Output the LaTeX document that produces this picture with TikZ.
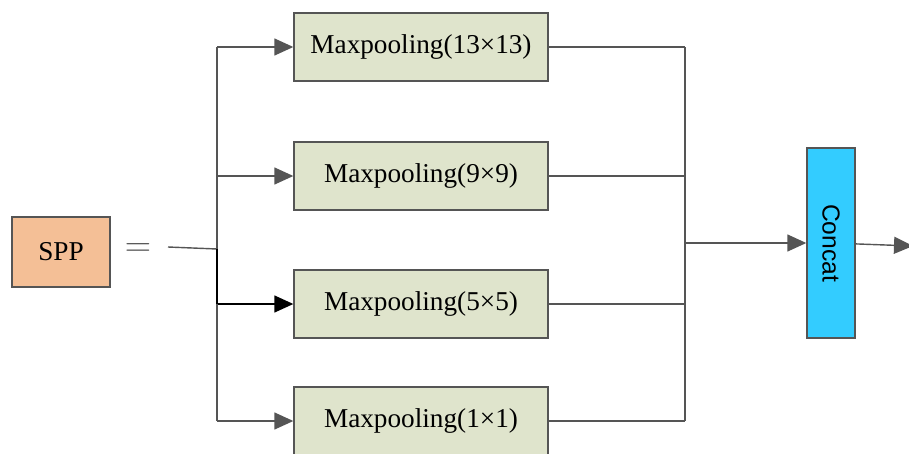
\documentclass[tikz,border=0pt]{standalone}
\usepackage{fontspec}
\setmainfont{Liberation Serif}
\newfontfamily\concatfont{Liberation Sans}
\usetikzlibrary{arrows.meta}

\definecolor{sppfill}{HTML}{F4BF96}
\definecolor{poolfill}{HTML}{DFE4CC}
\definecolor{concatfill}{HTML}{33CCFF}
\definecolor{edge}{HTML}{555555}

\tikzset{
	block/.style = {draw = edge, line width = 0.8pt, font = \fontsize{15.5}{18}\selectfont},
	pool/.style = {block, fill = poolfill, minimum width = 5.08cm, minimum height = 1.36cm},
	link/.style = {draw = edge, line width = 0.8pt},
	into/.style = {link, -{Triangle[length = 0.38cm, width = 0.34cm]}}
}

\begin{document}
\begin{tikzpicture}[x = 0.02cm, y = -0.02cm]
	\useasboundingbox (0,0) rectangle (909,453);

	\begin{scope}
		\node [block, fill = sppfill, minimum width = 1.96cm, minimum height = 1.4cm] (spp) at (61,252) {SPP};
		\node [text = edge, font = \fontsize{20}{22}\selectfont] (eq) at (138,250) {$=$};
	\end{scope}

	\coordinate (in) at (168,247);
	\coordinate (split) at (217,249);
	\coordinate (join) at (685,243);
	\coordinate (out) at (913,246);

	\begin{scope}
		\foreach \name/\size/\y/\tone in {pool13/13/47/edge, pool9/9/176/edge, pool5/5/304/black, pool1/1/421/edge}
		{
			\node [pool] (\name) at (421,\y) {Maxpooling(\size×\size)};
			\coordinate (fork\name) at (217,\y);
			\coordinate (merge\name) at (685,\y);
			\draw [into, draw = \tone, fill = \tone] (fork\name) -- (\name);
			\draw [link] (\name) -- (merge\name);
		}
	\end{scope}

	\begin{scope}
		\draw [link] (in) -- (split);
		\draw [link] (forkpool13) -- (forkpool1);
		\draw [link, draw = black] (split) -- (forkpool5);
		\draw [link] (mergepool13) -- (mergepool1);
	\end{scope}

	\node [block, fill = concatfill, minimum width = 0.96cm, minimum height = 3.8cm] (concat) at (831,243) {};
	\node [rotate = -90, font = \concatfont\fontsize{14}{16}\selectfont] (concattext) at (concat.center) {Concat};

	\begin{scope}
		\draw [into] (join) -- (concat);
		\draw [into] (concat) -- (out);
	\end{scope}
\end{tikzpicture}
\end{document}
